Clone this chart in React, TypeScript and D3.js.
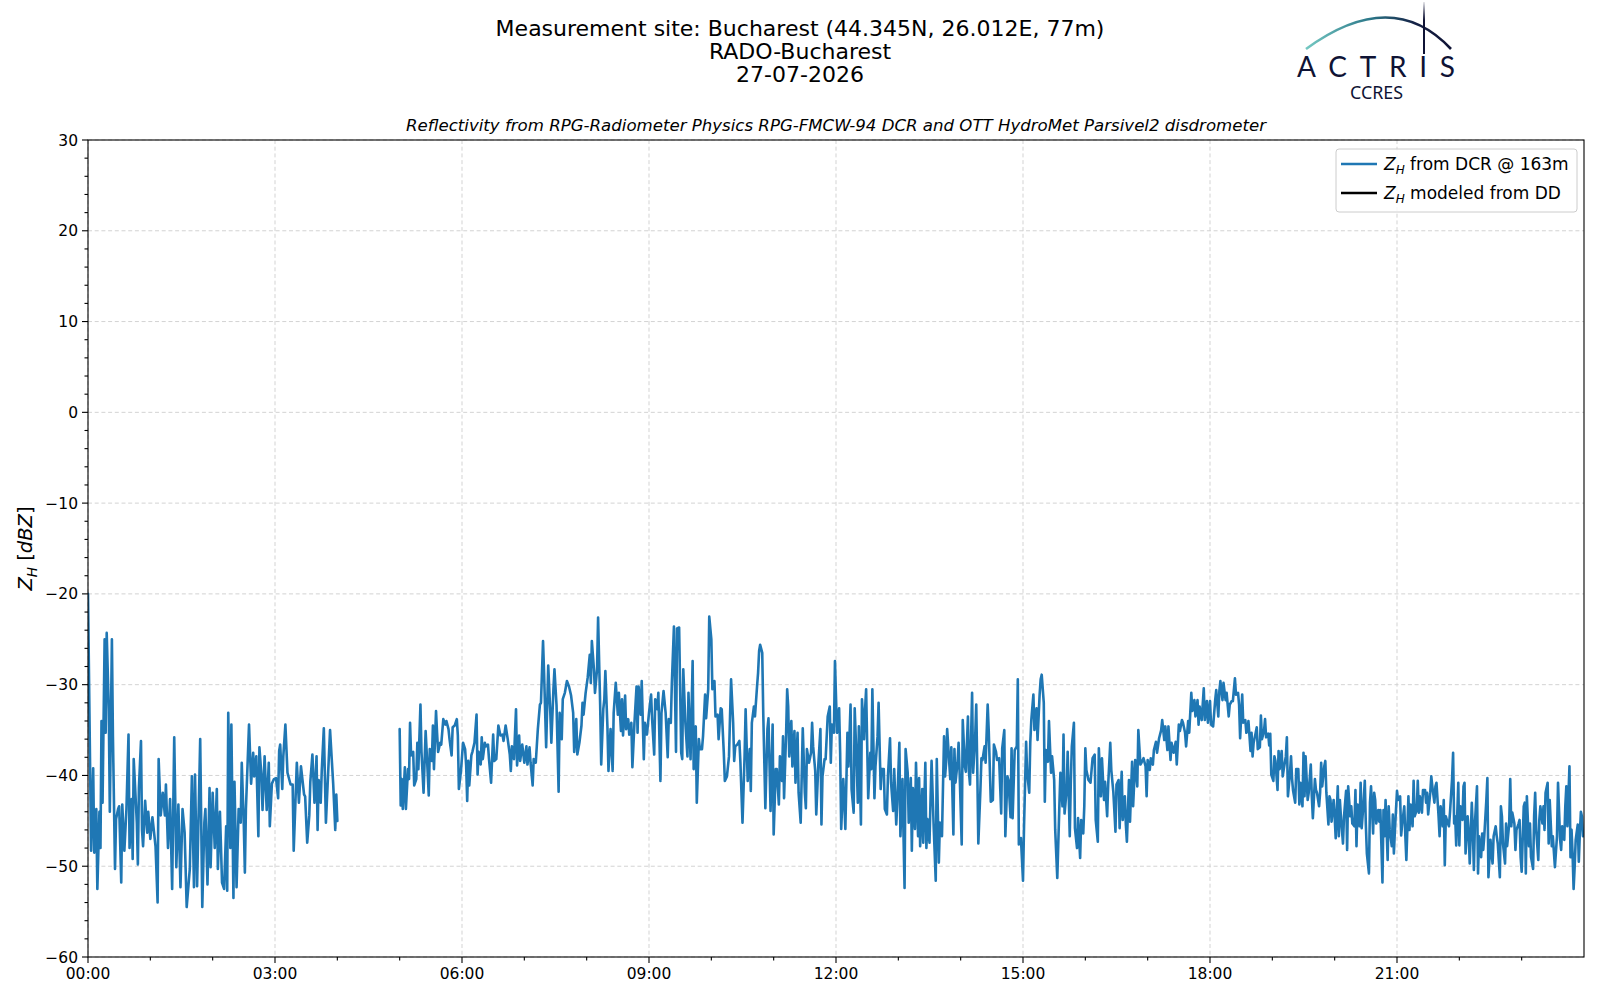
import React from "react";
import * as d3 from "d3";

// ---- data: Z_H from DCR @ 163m, [minute of day, dBZ] ----
const zhNight: [number, number][] = [
  [0,-20],[3,-48.3],[5,-39.2],[6,-48.5],[8,-43.7],[9,-52.5],[11,-44],[12,-48],[13,-34],[14,-43],[16,-25],[17,-35.3],[18,-24.3],[20,-32.7],[21,-44],[23,-25],[24,-35.7],[26,-50.3],[27,-44.8],[29,-43.7],[30,-43.4],[32,-51.8],[33,-43.2],[35,-48.3],[37,-43.7],[39,-35.5],[40,-48],[42,-42.6],[43,-49.2],[44,-38.2],[47,-45.2],[48,-49.8],[49,-41.4],[51,-36.2],[52,-46],[53,-47.8],[55,-42.8],[57,-46.3],[58,-44],[60,-47],[62,-44.6],[65,-47.8],[67,-54],[68,-38.2],[70,-44.4],[72,-41.9],[74,-44.4],[75,-41],[77,-48],[79,-42.6],[81,-52.5],[83,-35.8],[85,-50.1],[87,-43.2],[89,-52.3],[91,-43.7],[93,-46.3],[95,-54.5],[98,-50.3],[100,-40.1],[102,-52.3],[103,-39.9],[105,-52.2],[107,-41.4],[108,-36],[110,-54.5],[112,-45.2],[113,-43.7],[115,-52],[117,-41.4],[118,-50.1],[120,-41.9],[122,-48],[124,-41.5],[125,-50.3],[127,-44],[129,-51.8],[131,-52.5],[133,-45.6],[134,-52.7],[135,-33.1],[137,-48],[138,-34.4],[140,-53.5],[141,-40.7],[143,-52.3],[145,-43.7],[147,-45.2],[148,-38.6],[150,-45.6],[151,-50.7],[152,-43.7],[155,-34.4],[157,-40.9],[159,-37.5],[160,-40.1],[162,-37.9],[164,-46.7],[165,-36.9],[167,-40.1],[168,-43.8],[170,-37.9],[172,-43.8],[174,-38.6],[175,-45.6],[177,-40.9],[179,-40.4],[181,-40.3],[183,-42.5],[184,-37.3],[185,-36.6],[187,-41.5],[188,-37.9],[190,-34.4],[192,-39.7],[195,-41],[197,-41],[198,-48.3],[201,-38.6],[203,-43],[205,-39],[208,-42.1],[209,-42.3],[211,-47.4],[213,-44.4],[214,-40.7],[216,-37.7],[218,-43],[220,-37.9],[221,-46],[222,-40.5],[224,-43],[225,-39.5],[227,-34.8],[229,-45.2],[231,-40.1],[233,-35],[236,-40.9],[238,-46],[239,-42.1],[240,-45]
];
const zhMorning: [number, number][] = [
  [300,-34.9],[301,-43.3],[302,-40.4],[303,-43.7],[305,-39.1],[306,-43.7],[308,-39.3],[309,-40.4],[310,-34.2],[311,-37.8],[313,-37.4],[314,-41.1],[316,-40.4],[317,-36.4],[318,-39.3],[320,-32.2],[321,-37.4],[323,-41.9],[325,-35.1],[326,-37.4],[328,-42.2],[329,-37.1],[331,-38.4],[332,-34.5],[333,-39.3],[335,-32.9],[336,-35.3],[337,-37.4],[339,-36.4],[340,-36.6],[342,-33.8],[344,-34.4],[345,-34],[347,-34.9],[348,-36],[350,-37.8],[351,-34.7],[353,-34.5],[355,-33.8],[356,-35.6],[357,-41.5],[359,-39.5],[361,-36.4],[363,-37.1],[364,-38.9],[365,-42.8],[366,-38.4],[367,-41.1],[369,-37.8],[370,-37.4],[372,-36.4],[374,-33.3],[375,-39.9],[376,-37.4],[378,-38.8],[379,-35.8],[380,-38.2],[382,-36.4],[383,-36.8],[385,-36.6],[386,-38.2],[388,-40.8],[390,-35.5],[391,-38.4],[393,-38.2],[395,-34.5],[397,-35.6],[399,-35.5],[400,-36.2],[402,-34.5],[404,-36],[406,-37.7],[407,-39.5],[408,-36.8],[410,-38.2],[412,-32.7],[413,-38.9],[415,-35.6],[416,-38.4],[418,-36.6],[420,-38.6],[422,-36.8],[423,-38.8],[425,-36.9],[426,-38.6],[428,-41.1],[429,-38.2],[431,-38.6],[433,-34.9],[435,-32.2],[436,-32],[438,-25.2],[439,-28.7],[441,-36.9],[443,-27.9],[445,-33.1],[446,-36.4],[448,-30.5],[449,-28.3],[451,-32.3],[453,-41.8],[454,-33.1],[456,-36],[457,-31.6],[459,-30.9],[461,-29.6],[463,-30.2],[465,-31.2],[467,-33.1],[468,-37.4],[470,-33.8],[471,-37.7],[473,-36.4],[475,-34.5],[476,-32],[477,-33.3],[479,-30.9],[481,-29.2],[483,-26.7],[484,-29.8],[485,-25.2],[487,-28.3],[488,-30.9],[490,-28.3],[491,-22.6],[493,-32.3],[494,-38.8],[496,-32.7],[497,-31.6],[498,-28.5],[500,-34.7],[501,-39.5],[503,-34.9],[505,-39.5],[506,-33.1],[508,-29.8],[510,-33.3],[511,-30.9],[513,-35.1],[514,-31.6],[515,-35.6],[517,-31.2],[518,-34.9],[520,-33.8],[521,-35.5],[523,-34.2],[524,-39.1],[526,-34.2],[528,-30.2],[529,-35.3],[530,-30.2],[532,-33.3],[533,-29.6],[535,-38.2],[536,-34.2],[538,-35.5],[540,-33.1],[542,-31.1],[543,-33.8],[545,-37.7],[546,-31.6],[548,-32.7],[549,-30.9],[551,-40.6],[552,-33.1],[554,-30.7],[556,-33.1],[558,-38],[559,-33.8],[561,-34.2],[562,-29.8],[564,-23.6],[566,-37.4],[567,-23.8]
];
const zhMidday: [number, number][] = [
  [569,-23.7],[571,-37.5],[572,-38.2],[573,-28.3],[575,-34.2],[577,-37.9],[578,-30.9],[580,-38.2],[581,-32.7],[582,-27.4],[583,-39.3],[585,-34.6],[586,-43],[588,-36],[589,-37.1],[591,-37.1],[592,-35.7],[594,-31.1],[595,-33.7],[597,-30.5],[598,-22.5],[600,-25],[601,-30.5],[603,-29.6],[604,-33.5],[606,-33.3],[607,-36],[609,-32.6],[610,-32.7],[612,-37.5],[613,-40.6],[615,-40.1],[617,-37.9],[618,-33.5],[619,-29.4],[621,-34.2],[622,-38.4],[623,-36.8],[625,-36.6],[627,-36.2],[628,-38.6],[629,-41.9],[630,-45.2],[632,-37.9],[633,-32.7],[635,-40.6],[637,-37.1],[638,-41.7],[639,-34.2],[641,-32.4],[642,-33.5],[644,-30.2],[645,-28.7],[646,-26.3],[647,-25.6],[649,-26.5],[650,-33.3],[652,-43.6],[654,-34.9],[655,-33.7],[657,-43.9],[659,-34.4],[660,-46.5],[662,-39.3],[663,-39.3],[665,-43.2],[666,-37.9],[668,-40.6],[669,-35.7],[670,-42.5],[672,-35.3],[673,-30.5],[674,-32.4],[675,-37.9],[677,-34],[678,-39],[680,-35.1],[681,-40.8],[683,-35.3],[684,-41.9],[686,-45.2],[687,-40.1],[688,-34.8],[690,-41.9],[691,-43.6],[692,-37.1],[694,-38.6],[696,-37.5],[697,-34.2],[698,-36.8],[700,-39.5],[701,-44.3],[703,-38.8],[705,-34.9],[706,-45.4],[707,-40.1],[709,-38.2],[710,-38.2],[712,-33.5],[714,-32.4],[715,-38.6],[716,-34.4],[718,-35.3],[719,-27.4],[721,-35.3],[723,-32.6],[724,-37.5],[725,-45.9],[727,-40.4],[728,-43],[729,-45.9],[731,-35.3],[732,-39],[734,-32.2],[735,-41.5],[737,-44.1],[738,-32.6],[740,-39],[741,-43],[742,-34.6],[744,-45.4],[745,-31.6],[747,-36],[748,-32.7],[749,-30.5],[751,-42.5],[753,-37.5],[754,-39.3],[755,-30.5],[757,-42.5],[758,-39],[760,-35.7],[761,-32],[763,-41.5],[764,-39.3],[766,-39.3],[767,-43.7],[769,-44.3],[770,-40.1],[772,-35.9],[773,-40.8],[775,-43.9],[776,-39.3],[778,-45.4],[779,-43],[781,-36.4],[782,-46.7],[784,-40.4],[785,-46.7],[786,-52.4],[787,-37.1],[789,-39.7],[790,-45.2],[792,-40.3],[793,-48.3],[794,-41.4],[796,-45.9],[797,-38.6],[799,-46.7],[800,-40.3],[801,-47.8],[803,-41.5],[804,-47.4],[806,-38.6],[807,-48],[808,-44.8],[810,-47.4],[811,-42.6],[812,-38.4],[814,-45.6],[816,-51.6],[817,-38.2],[819,-49.6],[820,-45.2],[822,-46.7],[824,-35.7],[825,-40.1],[826,-38.6],[827,-34.9],[829,-38.6],[830,-40.4],[831,-36.9],[833,-46.5],[834,-37.1],[835,-40.8],[837,-38.6]
];
const zhAfternoon: [number, number][] = [
  [838,-36.4],[839,-39.7],[841,-47.6],[842,-33.9],[844,-39],[845,-39.6],[847,-33.5],[848,-39.7],[849,-41],[851,-30.9],[852,-39.7],[854,-35.7],[855,-32.2],[856,-39.4],[857,-47.5],[859,-41.6],[860,-38.1],[861,-38.3],[863,-36.8],[864,-38.6],[866,-32.2],[867,-35],[869,-42.9],[871,-42.7],[872,-36.6],[874,-37.4],[875,-38.3],[877,-38.1],[879,-44.2],[880,-37],[882,-35],[883,-46.7],[885,-40.1],[886,-40.5],[888,-44.6],[889,-37],[890,-44.7],[892,-37.2],[894,-36.8],[895,-29.4],[896,-47.6],[898,-46.9],[900,-51.6],[901,-45.6],[903,-36.3],[904,-39.7],[906,-41.9],[907,-36.4],[908,-33.9],[910,-31.1],[911,-35],[913,-32.6],[914,-36.1],[916,-31.1],[917,-29.4],[918,-28.9],[920,-32],[921,-42.9],[922,-37.2],[924,-38.5],[925,-34],[927,-39.7],[928,-37.9],[930,-40.5],[931,-46],[933,-51.3],[935,-43.4],[936,-39.7],[938,-43.4],[939,-35.5],[940,-44.2],[942,-41.6],[943,-37.4],[945,-46.7],[946,-40.8],[947,-36.8],[949,-34.2],[950,-45.8],[952,-48],[953,-44.7],[955,-49.1],[956,-44.9],[958,-46.4],[959,-43.4],[960,-37],[961,-39.4],[963,-40.5],[965,-40.8],[966,-39.4],[967,-38.1],[969,-37.7],[970,-44.9],[972,-47.3],[973,-37],[975,-42.3],[976,-38.1],[978,-42.7],[979,-40.7],[981,-44.5],[982,-41],[984,-36.4],[985,-39.4],[987,-41.9],[989,-46.2],[990,-41],[992,-40.5],[993,-45.8],[995,-39.6],[996,-44.9],[998,-42.3],[999,-45.4],[1000,-47.3],[1002,-40.5],[1003,-45.1],[1005,-38.5],[1006,-43.4],[1008,-38.3],[1010,-41.2],[1011,-35],[1013,-38.8],[1014,-38.6],[1016,-38.1],[1018,-39],[1019,-42.3],[1020,-38.3],[1022,-39.4],[1023,-38.1],[1025,-38.8],[1026,-37.2],[1028,-36.3],[1029,-37.5],[1031,-35.9],[1033,-35],[1034,-33.9],[1036,-36.1],[1037,-34.6],[1039,-37.2],[1040,-34.6],[1042,-38.3],[1043,-36.4],[1045,-37.5],[1047,-36.3],[1048,-38.8],[1050,-34.4],[1051,-35.1],[1053,-33.9],[1054,-34.2],[1056,-35.3],[1057,-36.8],[1059,-34],[1060,-35.3],[1062,-30.9],[1063,-32.9],[1065,-31.7],[1066,-33.5],[1068,-31.7],[1069,-34.4],[1070,-32.4],[1072,-33.9],[1074,-30.4],[1075,-33.9],[1077,-31.8],[1078,-34.2],[1080,-31.8],[1081,-34.4],[1083,-34.6],[1085,-31.7],[1086,-30.6],[1088,-33.5],[1089,-30.7],[1090,-29.6],[1092,-31.7],[1093,-29.8],[1095,-31.7],[1096,-30.9],[1098,-33.5],[1099,-32.2],[1101,-31.8],[1102,-31.8],[1104,-29.3],[1105,-31.1],[1107,-30.9],[1108,-32.2],[1109,-35.9],[1111,-31.1],[1112,-34.2],[1114,-33.9],[1115,-35.3]
];
const zhEvening: [number, number][] = [
  [1116,-35.1],[1117,-34],[1119,-37.3],[1120,-35.3],[1121,-37.9],[1122,-36.4],[1124,-35.3],[1125,-34.7],[1126,-37.1],[1128,-36.9],[1129,-33.4],[1130,-36],[1132,-35.1],[1133,-33.8],[1134,-35.8],[1136,-35.4],[1137,-36.7],[1138,-35.4],[1139,-39.9],[1141,-40.6],[1142,-37.9],[1143,-38.4],[1145,-41.6],[1146,-37.3],[1147,-39.3],[1149,-37.3],[1150,-40.1],[1151,-39.3],[1153,-37.9],[1154,-35.8],[1155,-42.3],[1157,-39.7],[1158,-37.9],[1159,-40.4],[1160,-41.7],[1162,-43],[1163,-39.3],[1165,-39.3],[1166,-43.2],[1167,-40.8],[1169,-43.4],[1170,-37.5],[1171,-42.3],[1172,-37.9],[1174,-42.7],[1175,-41.9],[1177,-38.8],[1178,-42.3],[1179,-44.7],[1181,-40.4],[1182,-41.6],[1183,-41.9],[1185,-43.4],[1186,-41.9],[1187,-38.6],[1188,-41.2],[1190,-39],[1191,-38.4],[1192,-41.9],[1194,-45.4],[1195,-42.3],[1196,-42.7],[1197,-45.1],[1199,-42.7],[1200,-44.5],[1201,-46.9],[1203,-41.2],[1204,-46.7],[1205,-42.7],[1206,-44.5],[1208,-47.5],[1209,-44.5],[1211,-41.7],[1212,-48.2],[1213,-41.2],[1215,-44.5],[1216,-43.4],[1217,-45.3],[1219,-45.6],[1220,-41.6],[1221,-47.8],[1222,-43.2],[1224,-45.6],[1225,-40.8],[1226,-45.8],[1228,-42.7],[1229,-40.6],[1230,-45.4],[1231,-48.6],[1233,-50.8],[1234,-43],[1235,-41.2],[1237,-46.4],[1238,-41.9],[1239,-42.7],[1240,-45.3],[1242,-43.8],[1243,-45.1],[1244,-43.8],[1246,-51.8],[1247,-43.8],[1248,-46.7],[1249,-42.7],[1251,-49.3],[1252,-43.4],[1253,-46],[1255,-47.8],[1256,-44.3],[1257,-48.6],[1258,-46],[1260,-41.7],[1261,-42.7],[1263,-42.3],[1264,-46.6],[1265,-45.3],[1267,-43.4],[1268,-46.6],[1269,-49.3],[1271,-42.3],[1272,-46],[1273,-43.2],[1275,-45.6],[1276,-40.6],[1277,-44.5],[1279,-43.8],[1280,-40.6],[1281,-44.1],[1282,-42.3],[1284,-44.1],[1285,-41.6],[1287,-41.6],[1288,-43],[1289,-41.9],[1290,-44.3],[1292,-41.9],[1293,-40.1],[1294,-41.2],[1296,-43],[1297,-41.2],[1298,-40.8],[1300,-44.5],[1301,-46.7],[1302,-43.4],[1304,-45.6],[1305,-42.7],[1306,-49.9],[1307,-44.5],[1309,-45.3],[1310,-45.6],[1311,-44.1],[1313,-40.4],[1314,-37.5],[1315,-45.3],[1316,-44.5],[1317,-47.7],[1319,-40.8],[1320,-47.7],[1321,-43.4],[1323,-44.9],[1324,-41.2],[1325,-40.8],[1326,-48.6],[1328,-44.5],[1329,-46.4],[1330,-49.7],[1332,-43],[1333,-46],[1334,-50.4],[1335,-45.3],[1337,-41.2],[1338,-50.8],[1339,-46.7],[1341,-49],[1342,-46.4],[1343,-48.2],[1344,-46.7],[1346,-42.7],[1347,-40.3],[1348,-51.2],[1350,-47.1],[1351,-48.6],[1352,-49.7],[1353,-46.7],[1355,-45.6],[1356,-46.7],[1357,-47.5],[1359,-51.2],[1360,-43.4],[1361,-44.5],[1362,-47.5],[1364,-49.7],[1365,-45.3],[1366,-47.8],[1368,-45.3],[1369,-40.4],[1370,-45.6],[1371,-44.1],[1373,-45.3],[1374,-48.2],[1375,-46],[1377,-45.3],[1378,-44.9],[1379,-49],[1380,-50.6],[1382,-43.4],[1383,-43],[1384,-50.8],[1385,-42.3],[1387,-47.8],[1388,-45.3],[1389,-49],[1391,-50.3],[1392,-44.5],[1393,-41.9],[1394,-46],[1396,-49.3],[1397,-44.9],[1398,-43.4],[1400,-45.3],[1401,-43.4],[1402,-46],[1403,-41.9],[1405,-40.8],[1406,-47.5],[1407,-42.7],[1409,-47.8],[1410,-46.7],[1412,-50.1],[1414,-46.7],[1415,-40.8],[1417,-47.1],[1418,-48.2],[1419,-45.6],[1421,-47.1],[1422,-43.4],[1423,-41.2],[1424,-45.6],[1426,-39],[1427,-49],[1428,-46],[1429,-48.6],[1430,-52.5],[1431,-50.1],[1432,-47.1],[1434,-45.4],[1435,-49.5],[1436,-46.4],[1437,-44],[1438,-44.5],[1439,-46.7]
];

const xTickMinutes = [0, 180, 360, 540, 720, 900, 1080, 1260];
const xTickLabels = ["00:00", "03:00", "06:00", "09:00", "12:00", "15:00", "18:00", "21:00"];
const yTickValues = [-60, -50, -40, -30, -20, -10, 0, 10, 20, 30];

const titleLines = [
  "Measurement site: Bucharest (44.345N, 26.012E, 77m)",
  "RADO-Bucharest",
  "27-07-2026",
];
const subtitle =
  "Reflectivity from RPG-Radiometer Physics RPG-FMCW-94 DCR and OTT HydroMet Parsivel2 disdrometer";

const W = 1600;
const H = 1000;
const M = { left: 88, right: 1584, top: 140, bottom: 957 };
const FONT = "DejaVu Sans, sans-serif";
const BLUE = "#1f77b4";
const NAVY = "#0f1335";

export default function App() {
  const x = d3.scaleLinear().domain([0, 1440]).range([M.left, M.right]);
  const y = d3.scaleLinear().domain([-60, 30]).range([M.bottom, M.top]);
  const line = d3
    .line<[number, number]>()
    .x((d) => x(d[0]))
    .y((d) => y(d[1]));

  const seg2 = [...zhMorning, ...zhMidday, ...zhAfternoon, ...zhEvening];
  const xMinor = d3.range(0, 1441, 60).filter((m) => m % 180 !== 0);
  const yMinor = d3.range(-60, 31, 2).filter((v) => v % 10 !== 0);

  const legX = 1336;
  const legY = 149;

  return (
    <div style={{ position: "absolute", left: 0, top: 0 }}>
      <svg width={W} height={H} style={{ display: "block", background: "#fff" }}>
        <defs>
          <linearGradient id="arcGrad" x1="0" y1="0" x2="1" y2="0">
            <stop offset="0" stopColor="#74c8c2" />
            <stop offset="0.45" stopColor="#2b7688" />
            <stop offset="0.75" stopColor="#152145" />
            <stop offset="1" stopColor={NAVY} />
          </linearGradient>
          <linearGradient id="vGrad" x1="0" y1="0" x2="0" y2="1">
            <stop offset="0" stopColor={NAVY} stopOpacity="0.1" />
            <stop offset="0.35" stopColor={NAVY} stopOpacity="1" />
            <stop offset="1" stopColor={NAVY} stopOpacity="1" />
          </linearGradient>
          <clipPath id="plotClip">
            <rect x={M.left} y={M.top} width={M.right - M.left} height={M.bottom - M.top} />
          </clipPath>
        </defs>

        {/* titles */}
        {titleLines.map((t, i) => (
          <text key={t} x={800} y={36 + i * 23} textAnchor="middle" fontFamily={FONT} fontSize={22} fill="#000">
            {t}
          </text>
        ))}
        <text x={(M.left + M.right) / 2} y={131} textAnchor="middle" fontFamily={FONT} fontSize={16.6} fontStyle="italic" fill="#000">
          {subtitle}
        </text>

        {/* logo */}
        <path d="M1306,49 Q1392,-14 1451,49" fill="none" stroke="url(#arcGrad)" strokeWidth={2.6} />
        <rect x={1423} y={2} width={2} height={52} fill="url(#vGrad)" />
        <text x={1297} y={77} fontFamily="Lato, Noto Sans, sans-serif" fontSize={28} fill={NAVY} textLength={158} lengthAdjust="spacing">
          ACTRIS
        </text>
        <text x={1350} y={99} fontFamily="Noto Sans, sans-serif" fontSize={18} fill={NAVY} textLength={53} lengthAdjust="spacingAndGlyphs">
          CCRES
        </text>

        {/* grid */}
        <g stroke="#d3d3d3" strokeWidth={1} strokeDasharray="4,2.7">
          {xTickMinutes.map((m) => (
            <line key={"gx" + m} x1={x(m)} x2={x(m)} y1={M.top} y2={M.bottom} />
          ))}
          {yTickValues.map((v) => (
            <line key={"gy" + v} x1={M.left} x2={M.right} y1={y(v)} y2={y(v)} />
          ))}
        </g>

        {/* data */}
        <g clipPath="url(#plotClip)" fill="none" stroke={BLUE} strokeWidth={2.6} strokeLinejoin="round" strokeLinecap="round">
          <path d={line(zhNight) || ""} />
          <path d={line(seg2) || ""} />
        </g>

        {/* frame */}
        <rect x={M.left} y={M.top} width={M.right - M.left} height={M.bottom - M.top} fill="none" stroke="#000" strokeWidth={1.1} />

        {/* ticks */}
        <g stroke="#000" strokeWidth={1.1}>
          {xTickMinutes.map((m) => (
            <line key={"tx" + m} x1={x(m)} x2={x(m)} y1={M.bottom} y2={M.bottom + 6} />
          ))}
          {xMinor.map((m) => (
            <line key={"mx" + m} x1={x(m)} x2={x(m)} y1={M.bottom} y2={M.bottom + 3.5} />
          ))}
          {yTickValues.map((v) => (
            <line key={"ty" + v} x1={M.left - 6} x2={M.left} y1={y(v)} y2={y(v)} />
          ))}
          {yMinor.map((v) => (
            <line key={"my" + v} x1={M.left - 3.5} x2={M.left} y1={y(v)} y2={y(v)} />
          ))}
        </g>
        <g fontFamily={FONT} fontSize={15.5} fill="#000">
          {xTickMinutes.map((m, i) => (
            <text key={"lx" + m} x={x(m)} y={M.bottom + 22} textAnchor="middle">
              {xTickLabels[i]}
            </text>
          ))}
          {yTickValues.map((v) => (
            <text key={"ly" + v} x={M.left - 10} y={y(v) + 5.5} textAnchor="end">
              {v < 0 ? "\u2212" + Math.abs(v) : String(v)}
            </text>
          ))}
        </g>

        {/* y label */}
        <text transform={`translate(32,${(M.top + M.bottom) / 2}) rotate(-90)`} textAnchor="middle" fontFamily={FONT} fontSize={19.5} fill="#000">
          <tspan fontStyle="italic">Z</tspan>
          <tspan fontStyle="italic" fontSize={13.6} dy={4.5}>H</tspan>
          <tspan dy={-4.5}> [</tspan>
          <tspan fontStyle="italic">dBZ</tspan>
          <tspan>]</tspan>
        </text>

        {/* legend */}
        <rect x={legX} y={legY} width={241} height={63} rx={3} fill="#fff" fillOpacity={0.8} stroke="#cccccc" strokeWidth={1} />
        <line x1={legX + 5} x2={legX + 41} y1={legY + 15} y2={legY + 15} stroke={BLUE} strokeWidth={2.6} />
        <line x1={legX + 5} x2={legX + 41} y1={legY + 44} y2={legY + 44} stroke="#000" strokeWidth={2.6} />
        <g fontFamily={FONT} fontSize={17} fill="#000">
          <text x={legX + 48} y={legY + 21}>
            <tspan fontStyle="italic">Z</tspan>
            <tspan fontStyle="italic" fontSize={12} dy={3.5}>H</tspan>
            <tspan dy={-3.5}> from DCR @ 163m</tspan>
          </text>
          <text x={legX + 48} y={legY + 50}>
            <tspan fontStyle="italic">Z</tspan>
            <tspan fontStyle="italic" fontSize={12} dy={3.5}>H</tspan>
            <tspan dy={-3.5}> modeled from DD</tspan>
          </text>
        </g>
      </svg>
    </div>
  );
}
